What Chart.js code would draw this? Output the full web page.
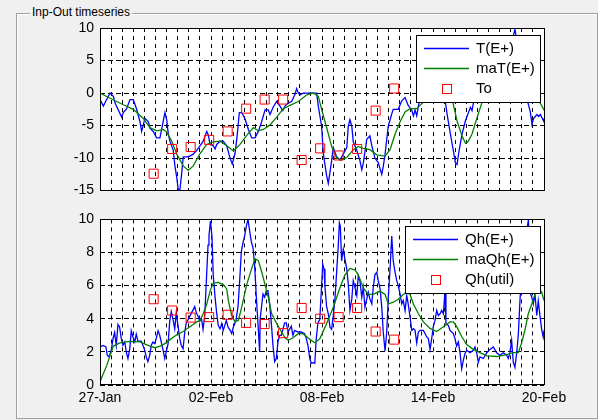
<!DOCTYPE html>
<html><head><meta charset="utf-8">
<script src="https://cdn.jsdelivr.net/npm/chart.js@4/dist/chart.umd.min.js"></script>
<style>
html,body{margin:0;padding:0;background:#f0f0f0;width:598px;height:420px;overflow:hidden;font-family:"Liberation Sans",Arial,sans-serif;}
#panel{position:absolute;left:16px;top:13px;width:580px;height:404px;border:1px solid #a0a0a0;box-shadow:inset 1px 1px 0 #fff;}
#ptitle{position:absolute;left:30px;top:4px;font-size:12px;line-height:16px;padding:0 2px;background:#f0f0f0;color:#000;}
canvas{position:absolute;left:0}
#c1{top:0}
#c2{top:205px}
</style></head>
<body>
<div id="panel"></div><div id="ptitle">Inp-Out timeseries</div>
<canvas id="c1" width="598" height="205"></canvas>
<canvas id="c2" width="598" height="215"></canvas>
<script>
// ---- x axis (days since 27-Jan) ----
const xTickDays = [0, 6, 12, 18, 24];
const xTickLabels = ['27-Jan', '02-Feb', '08-Feb', '14-Feb', '20-Feb'];
const gridStepDays = 0.6;
const topYRange = [-15, 10];
const topYStep = 5;
const botYRange = [0, 10];
const botYStep = 2;

// ---- top: T(E+) ----
const tDays = [0,0.18,0.36,0.54,0.72,0.81,0.99,1.17,1.26,1.44,1.62,1.80,1.98,2.16,2.25,2.43,2.61,2.70,2.88,3.06,3.24,3.37,3.51,3.61,3.69,3.78,3.96,4.05,4.15,4.23,4.32,4.42,4.50,4.69,4.86,5.04,5.23,5.41,5.58,5.77,5.85,5.95,6.12,6.22,6.31,6.49,6.66,6.85,7.03,7.15,7.30,7.42,7.53,7.66,7.84,8.02,8.20,8.38,8.56,8.74,8.92,9.10,9.19,9.37,9.55,9.73,9.88,10.00,10.18,10.36,10.54,10.63,10.72,10.81,10.99,11.71,11.80,11.98,12.07,12.25,12.34,12.43,12.52,12.61,12.79,12.97,13.15,13.34,13.42,13.51,13.61,13.69,13.88,14.05,14.15,14.23,14.42,14.59,14.69,14.86,15.04,15.23,15.31,15.41,15.58,15.77,15.85,16.12,16.31,16.49,16.66,16.85,16.94,17.03,17.12,17.21,17.30,17.57,17.95,18.27,18.54,18.66,18.76,18.94,19.12,19.21,19.30,19.39,19.57,19.75,19.93,20.02,20.11,20.20,20.32,20.54,21.08,21.62,22.05,22.27,22.43,22.59,22.81,22.97,23.08,23.26,23.35,23.44,23.62,23.71,23.80,23.98,24.00];
const tVals = [-1.0,-2.0,-1.0,0.0,-0.5,-1.5,-2.6,-3.7,-3.0,-2.4,-1.0,-1.0,-2.5,-4.4,-5.9,-3.9,-4.4,-5.4,-5.9,-6.9,-6.9,-5.0,-3.0,-4.2,-6.3,-7.4,-8.8,-11.2,-13.0,-14.9,-14.9,-12.2,-9.8,-9.8,-9.7,-9.4,-8.8,-8.1,-7.4,-5.9,-6.4,-7.9,-8.1,-8.6,-7.9,-7.4,-7.4,-8.1,-10.0,-10.9,-9.3,-6.4,-3.0,-3.0,-4.0,-5.6,-6.9,-6.9,-5.9,-4.4,-2.6,-2.6,-3.3,-2.1,-1.3,-2.0,-2.7,-2.0,-1.5,-1.3,-0.2,0.7,0.0,-0.3,0.0,0.0,-2.0,-5.1,-9.3,-12.7,-13.9,-12.2,-10.4,-8.4,-9.8,-10.3,-9.4,-8.4,-5.1,-4.1,-5.1,-7.5,-8.8,-10.4,-11.8,-10.8,-7.1,-6.6,-8.1,-10.0,-10.7,-12.5,-11.3,-9.4,-5.1,-3.2,-2.5,-2.5,-1.2,-0.7,-1.9,-2.6,-3.5,-2.6,-3.5,-2.0,-0.8,0.5,1.5,1.0,-0.5,-1.2,-3.2,-6.3,-9.2,-10.7,-11.0,-9.2,-6.3,-4.3,-2.9,-2.2,-2.7,-1.3,-0.5,1.0,3.0,5.0,6.0,8.0,9.8,7.0,3.0,1.0,-0.9,-2.9,-4.8,-3.9,-3.3,-3.6,-3.3,-4.3,-3.9];

// ---- top: maT(E+) ----
const maTDays = [0,0.54,1.26,1.80,2.34,2.70,3.06,3.42,3.61,3.88,4.15,4.50,4.77,5.04,5.41,5.77,6.12,6.49,6.85,7.21,7.57,7.93,8.29,8.56,8.83,9.19,9.55,9.91,10.27,10.72,11.17,11.53,11.80,11.98,12.25,12.52,12.79,13.06,13.34,13.69,13.96,14.23,14.59,14.96,15.41,15.68,15.95,16.22,16.49,16.76,17.12,17.48,17.84,18.22,18.65,18.92,19.08,19.30,19.57,19.75,19.89,20.11,20.38,20.56,20.76,21.08,21.62,22.16,22.70,23.14,23.46,23.71,23.98,24.00];
const maTVals = [0.0,-0.8,-1.8,-2.5,-3.9,-5.3,-5.8,-5.6,-6.0,-7.4,-9.4,-11.2,-11.9,-11.2,-9.3,-7.9,-7.5,-7.4,-8.1,-8.9,-7.9,-6.5,-5.3,-5.8,-5.6,-4.9,-3.7,-2.4,-1.9,-1.3,-0.3,0.0,-0.5,-2.5,-5.3,-8.2,-10.0,-10.3,-9.9,-8.7,-8.2,-8.5,-8.7,-9.5,-9.7,-8.7,-6.3,-4.4,-2.9,-2.4,-2.4,-1.4,-0.5,0.0,-0.5,-0.9,-1.5,-4.3,-6.6,-7.7,-7.5,-6.3,-3.8,-2.2,-0.5,1.5,3.0,4.0,4.0,2.5,0.5,-1.1,-2.5,-2.7];

// ---- daily observations (top: To, bottom: Qh(util)) ----
const obsDays = [2.9,3.9,4.9,5.9,6.9,7.9,8.9,9.9,10.9,11.9,12.9,13.9,14.9,15.9];
const toVals = [-12.4,-8.6,-8.3,-7.2,-5.9,-2.4,-1.0,-1.0,-10.3,-8.5,-9.6,-8.6,-2.7,0.7];
const qUtilVals = [5.18,4.5,4.07,4.1,4.24,3.75,3.68,3.13,4.65,4.0,4.1,4.65,3.23,2.74];

// ---- bottom: Qh(E+) ----
const qDays = [0.00,0.16,0.32,0.39,0.49,0.61,0.70,0.79,0.88,0.97,1.06,1.15,1.24,1.34,1.42,1.51,1.61,1.69,1.78,1.88,1.96,2.05,2.23,2.42,2.50,2.59,2.69,2.77,2.86,2.96,3.04,3.14,3.23,3.31,3.41,3.50,3.58,3.68,3.77,3.85,3.95,4.04,4.12,4.22,4.31,4.39,4.49,4.58,4.66,4.76,4.94,5.12,5.21,5.30,5.39,5.48,5.57,5.66,5.75,5.84,5.89,5.97,6.05,6.12,6.22,6.31,6.39,6.49,6.58,6.66,6.83,6.92,7.03,7.12,7.21,7.28,7.35,7.46,7.55,7.64,7.73,7.82,7.91,8.00,8.09,8.18,8.27,8.36,8.45,8.54,8.63,8.66,8.81,8.90,8.99,9.08,9.17,9.26,9.35,9.44,9.53,9.62,9.71,9.80,9.98,10.07,10.16,10.34,10.43,10.52,10.70,10.88,11.06,11.15,11.24,11.34,11.42,11.51,11.61,11.69,11.78,11.88,11.96,12.04,12.11,12.16,12.25,12.34,12.43,12.52,12.61,12.70,12.79,12.88,12.94,12.99,13.06,13.15,13.24,13.34,13.42,13.51,13.61,13.69,13.78,13.88,13.96,14.05,14.15,14.23,14.32,14.42,14.50,14.59,14.69,14.77,14.86,14.96,15.04,15.14,15.23,15.31,15.41,15.50,15.58,15.68,15.77,15.85,15.95,16.04,16.12,16.22,16.31,16.39,16.49,16.58,16.66,16.76,16.85,16.94,17.03,17.12,17.21,17.30,17.48,17.66,17.75,17.84,17.93,18.02,18.11,18.20,18.29,18.38,18.47,18.56,18.65,18.70,18.83,18.92,19.01,19.10,19.19,19.28,19.37,19.46,19.55,19.64,19.73,19.82,20.00,20.18,20.27,20.36,20.45,20.54,20.72,20.91,21.08,21.26,21.44,21.62,21.80,21.98,22.07,22.16,22.25,22.34,22.43,22.52,22.61,22.70,22.81,22.92,23.03,23.16,23.24,23.34,23.42,23.51,23.61,23.69,23.78,23.88,23.96,24.00];
const qVals = [2.3,2.39,2.3,1.8,1.7,2.1,2.78,3.17,2.4,3.66,3.5,2.8,2.4,2.6,2.0,1.6,2.2,3.27,2.9,2.6,3.07,2.65,2.65,2.09,1.7,1.41,1.8,2.4,2.6,2.5,2.8,3.27,3.0,2.6,2.1,1.6,2.0,2.5,3.85,4.44,3.95,3.4,4.34,3.55,2.8,2.4,2.19,3.17,3.75,3.95,4.34,4.73,4.34,4.15,3.85,4.05,3.36,4.2,6.3,8.45,9.0,9.9,9.0,6.65,5.3,4.3,3.6,3.4,3.7,3.3,3.9,3.5,3.32,3.1,3.5,3.7,3.9,4.73,6.3,8.05,8.6,9.0,9.6,10.0,9.3,8.64,8.3,7.2,5.32,3.7,2.0,4.0,5.5,5.3,5.7,5.7,4.9,3.75,2.39,1.41,1.6,2.6,3.0,3.0,3.75,3.75,3.2,3.55,3.0,3.3,3.2,3.2,3.1,2.8,2.39,1.6,1.31,1.35,1.31,2.8,3.75,3.95,5.6,7.3,7.0,5.9,4.73,4.3,3.5,3.36,4.2,5.2,6.8,8.4,9.8,9.6,7.5,8.2,7.6,7.0,6.1,4.5,5.2,6.3,5.9,5.4,6.6,6.3,5.3,5.9,4.7,5.2,5.6,5.2,4.9,5.9,6.65,6.8,6.3,5.8,4.7,3.2,2.05,3.2,5.2,7.04,9.0,7.5,6.8,6.3,6.0,5.5,4.9,5.1,4.5,5.4,4.9,4.1,3.3,3.4,3.3,2.54,3.2,3.3,3.3,2.9,2.8,2.15,2.8,3.55,3.9,4.5,4.2,4.3,4.5,4.3,5.67,3.7,3.6,3.3,3.2,3.1,2.8,2.35,2.6,1.95,0.98,1.5,1.9,2.1,1.95,2.1,2.3,1.95,1.37,1.7,1.6,1.95,2.15,2.3,1.95,1.8,1.95,1.8,1.6,1.95,2.7,1.37,1.07,1.9,3.0,5.08,7.0,8.5,9.0,10.0,5.6,5.3,4.89,5.5,4.2,5.08,4.2,3.32,2.9,3.3];

// ---- bottom: maQh(E+) ----
const maQDays = [0.00,0.36,0.72,1.08,1.62,2.16,2.70,2.97,3.24,3.51,3.78,4.15,4.50,4.86,5.23,5.41,5.58,5.77,5.95,6.12,6.39,6.66,6.85,6.94,7.12,7.30,7.48,7.66,7.93,8.20,8.38,8.56,8.74,8.92,9.10,9.28,9.55,9.82,10.00,10.18,10.43,10.72,10.97,11.35,11.62,11.89,12.25,12.61,12.97,13.24,13.51,13.78,13.96,14.23,14.50,14.77,15.14,15.41,15.58,15.85,16.12,16.39,16.58,16.76,16.94,17.21,17.48,17.84,18.20,18.56,18.92,19.10,19.28,19.55,19.82,20.18,20.54,20.91,21.44,21.98,22.34,22.61,22.79,22.97,23.15,23.34,23.51,23.68,23.88,24.00];
const maQVals = [0.2,1.17,2.35,2.54,2.64,2.6,2.35,2.25,2.35,2.5,2.74,3.03,3.23,3.52,3.81,3.9,4.3,4.89,5.67,6.16,6.2,6.06,5.8,5.08,4.2,3.81,3.91,4.7,6.06,7.04,7.62,7.5,6.84,6.06,5.28,4.3,3.71,3.2,2.85,2.7,2.85,3.1,3.1,2.75,2.55,2.8,3.71,4.69,5.87,6.65,7.04,6.95,6.65,5.87,5.47,5.47,5.67,5.47,4.89,5.0,5.18,5.47,5.6,5.47,4.89,4.3,3.81,3.42,3.23,3.52,3.81,3.81,3.52,2.93,2.44,2.15,1.95,1.76,1.72,1.84,1.95,1.95,2.54,3.32,4.3,4.89,5.47,5.9,5.6,5.1];

const FONT = '"Liberation Sans", Arial, sans-serif';
Chart.defaults.font.family = FONT;
Chart.defaults.font.size = 14;
Chart.defaults.color = '#000';

function pts(xs, ys) { return xs.map((x, i) => ({ x: x, y: ys[i] })); }

const panelPlugin = {
  id: 'panelPlugin',
  beforeDraw(chart) {
    const a = chart.chartArea, c = chart.ctx;
    c.save(); c.fillStyle = '#fff';
    c.fillRect(a.left, a.top, a.right - a.left, a.bottom - a.top);
    c.restore();
  },
  afterDraw(chart) {
    const a = chart.chartArea, c = chart.ctx;
    c.save();
    c.setLineDash([]);
    c.strokeStyle = '#000'; c.lineWidth = 1;
    c.strokeRect(Math.round(a.left) + 0.5, Math.round(a.top) + 0.5, Math.round(a.right - a.left), Math.round(a.bottom - a.top) - 1);
    // legend box
    const ds = chart.data.datasets;
    c.font = '15px ' + FONT;
    const tw = Math.max(...ds.map(d => c.measureText(d.label).width));
    const w = Math.round(60 + tw + 5), h = 67;
    const x0 = Math.round(a.right - 4 - w), y0 = Math.round(a.top + 7);
    c.fillStyle = '#fff'; c.fillRect(x0, y0, w, h);
    c.strokeStyle = '#000'; c.strokeRect(x0 + 0.5, y0 + 0.5, w, h);
    ds.forEach((d, i) => {
      const yy = y0 + 13.5 + i * 20;
      if (d.showLine === false) {
        c.strokeStyle = d.borderColor; c.lineWidth = 1;
        c.strokeRect(Math.round(x0 + 31) - 4.5, Math.round(yy) - 4.5, 9, 9);
      } else {
        c.strokeStyle = d.borderColor; c.lineWidth = 1.5;
        c.beginPath(); c.moveTo(x0 + 8, yy); c.lineTo(x0 + 53, yy); c.stroke();
      }
      c.fillStyle = '#000'; c.textBaseline = 'middle'; c.textAlign = 'left';
      c.fillText(d.label, x0 + 60, yy + 0.5);
    });
    c.restore();
  }
};

function xScale(showLabels, axisHeight) {
  return {
    type: 'linear', min: xTickDays[0], max: xTickDays[xTickDays.length - 1],
    afterBuildTicks(scale) {
      const t = [];
      const n = Math.round((scale.max - scale.min) / gridStepDays);
      for (let i = 0; i <= n; i++) t.push({ value: Math.round((scale.min + i * gridStepDays) * 1000) / 1000 });
      scale.ticks = t;
    },
    afterFit(scale) { scale.height = axisHeight; },
    grid: { color: '#000', lineWidth: 1, drawTicks: false },
    border: { display: false, dash: [4, 4] },
    ticks: {
      display: showLabels, autoSkip: false, maxRotation: 0, minRotation: 0, padding: 5,
      font: { size: 14 }, color: '#000',
      callback(v) {
        const i = xTickDays.findIndex(d => Math.abs(d - v) < 1e-6);
        return i >= 0 ? xTickLabels[i] : '';
      }
    }
  };
}
function yScale(range, step) {
  return {
    min: range[0], max: range[1],
    afterFit(scale) { scale.width = 100; },
    grid: { color: '#000', lineWidth: 1, drawTicks: false },
    border: { display: false, dash: [5, 3] },
    ticks: { stepSize: step, padding: 6, font: { size: 14 }, color: '#000' }
  };
}

const lineDefaults = { pointRadius: 0, borderWidth: 1.3, tension: 0, fill: false };

new Chart(document.getElementById('c1'), {
  type: 'line',
  data: {
    datasets: [
      Object.assign({ label: 'T(E+)', data: pts(tDays, tVals), borderColor: '#0000ff', order: 3 }, lineDefaults),
      Object.assign({ label: 'maT(E+)', data: pts(maTDays, maTVals), borderColor: '#008000', order: 2 }, lineDefaults),
      { label: 'To', data: pts(obsDays, toVals), showLine: false, pointStyle: 'rect', pointRadius: 6.4,
        borderColor: '#ff0000', backgroundColor: 'rgba(0,0,0,0)', borderWidth: 1, order: 1 }
    ]
  },
  options: {
    responsive: false, animation: false, devicePixelRatio: 1,
    layout: { padding: { left: 0, top: 28, right: 54, bottom: 6 } },
    plugins: { legend: { display: false }, tooltip: { enabled: false } },
    scales: { x: xScale(false, 0), y: yScale(topYRange, topYStep) }
  },
  plugins: [panelPlugin]
});

new Chart(document.getElementById('c2'), {
  type: 'line',
  data: {
    datasets: [
      Object.assign({ label: 'Qh(E+)', data: pts(qDays, qVals), borderColor: '#0000ff', order: 3 }, lineDefaults),
      Object.assign({ label: 'maQh(E+)', data: pts(maQDays, maQVals), borderColor: '#008000', order: 2 }, lineDefaults),
      { label: 'Qh(util)', data: pts(obsDays, qUtilVals), showLine: false, pointStyle: 'rect', pointRadius: 6.4,
        borderColor: '#ff0000', backgroundColor: 'rgba(0,0,0,0)', borderWidth: 1, order: 1 }
    ]
  },
  options: {
    responsive: false, animation: false, devicePixelRatio: 1,
    layout: { padding: { left: 0, top: 10, right: 54, bottom: 0 } },
    plugins: { legend: { display: false }, tooltip: { enabled: false } },
    scales: { x: xScale(true, 35), y: yScale(botYRange, botYStep) }
  },
  plugins: [panelPlugin]
});
</script>
</body></html>
